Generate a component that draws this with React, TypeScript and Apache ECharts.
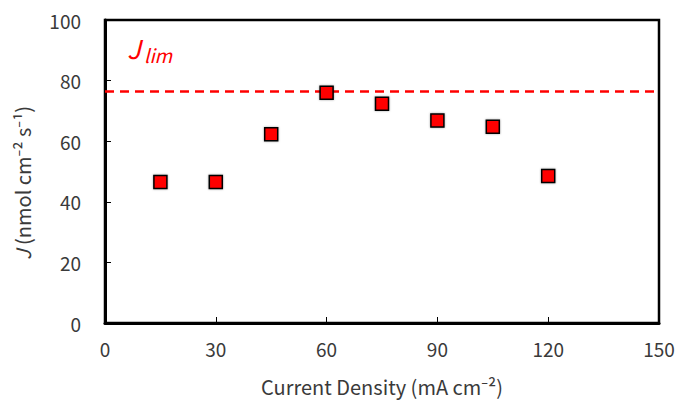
import React, { useEffect, useRef } from "react";
import * as echarts from "echarts";

const currentDensity = [15, 30, 45, 60, 75, 90, 105, 120];
const fluxValues = [46.5, 46.5, 62.3, 76.0, 72.4, 66.8, 64.8, 48.5];
const jLimValue = 76.6;
const xTicks = [0, 30, 60, 90, 120, 150];
const yTicks = [0, 20, 40, 60, 80, 100];

const FONT = "'Noto Sans CJK JP', 'Noto Sans', sans-serif";
const TXT = "#3a3a3a";

export default function App() {
  const ref = useRef<HTMLDivElement>(null);
  useEffect(() => {
    if (!ref.current) return;
    const chart = echarts.init(ref.current, undefined, { renderer: "svg" });
    chart.setOption({
      animation: false,
      backgroundColor: "#ffffff",
      grid: {
        left: 105,
        right: 19,
        top: 20,
        bottom: 77,
        show: true,
        containLabel: false,
        outerBoundsMode: "none",
        borderColor: "#000",
        borderWidth: 2.5,
        backgroundColor: "transparent",
      },
      xAxis: {
        type: "value",
        min: xTicks[0],
        max: xTicks[xTicks.length - 1],
        interval: 30,
        name: "Current Density (mA cm⁻²)",
        nameLocation: "middle",
        nameGap: 53,
        nameTextStyle: { fontFamily: FONT, fontSize: 20, color: TXT },
        axisLine: { lineStyle: { color: "#000", width: 3 } },
        axisTick: { inside: true, length: 6, lineStyle: { color: "#000", width: 1 } },
        axisLabel: { fontFamily: FONT, fontSize: 19, color: TXT, margin: 16 },
        splitLine: { show: false },
      },
      yAxis: {
        type: "value",
        min: yTicks[0],
        max: yTicks[yTicks.length - 1],
        interval: 20,
        axisLine: { lineStyle: { color: "#000", width: 3 } },
        axisTick: { inside: true, length: 6, lineStyle: { color: "#000", width: 1 } },
        axisLabel: { fontFamily: FONT, fontSize: 19, color: TXT, margin: 24 },
        splitLine: { show: false },
      },
      graphic: [
        {
          type: "text",
          x: 22,
          y: 183,
          rotation: Math.PI / 2,
          style: {
            text: "{i|J} (nmol cm⁻² s⁻¹)",
            fontFamily: FONT,
            fontSize: 20,
            fill: TXT,
            align: "center",
            verticalAlign: "middle",
            rich: {
              i: { fontFamily: FONT, fontSize: 20, fontStyle: "italic", fill: TXT },
            },
          },
        },
        {
          type: "text",
          left: 127,
          top: 34,
          style: {
            text: "J",
            fontFamily: FONT,
            fontSize: 26,
            fontStyle: "italic",
            fill: "#ff0000",
          },
        },
        {
          type: "text",
          left: 144,
          top: 45,
          style: {
            text: "lim",
            fontFamily: FONT,
            fontSize: 19,
            fontStyle: "italic",
            fill: "#ff0000",
          },
        },
      ],
      series: [
        {
          type: "scatter",
          data: currentDensity.map((x, i) => [x, fluxValues[i]]),
          symbol: "rect",
          symbolSize: 13,
          itemStyle: {
            color: "#ff0000",
            borderColor: "#000",
            borderWidth: 1.5,
            opacity: 1,
            shadowColor: "rgba(0,0,0,0.35)",
            shadowBlur: 2,
          },
          z: 5,
          markLine: {
            silent: true,
            symbol: ["none", "none"],
            label: { show: false },
            lineStyle: { color: "#ff0000", width: 2.5, type: [9, 6] },
            data: [{ yAxis: jLimValue }],
          },
        },
      ],
    });
    return () => chart.dispose();
  }, []);
  return <div ref={ref} style={{ width: 678, height: 400, position: "absolute", left: 0, top: 0 }} />;
}
